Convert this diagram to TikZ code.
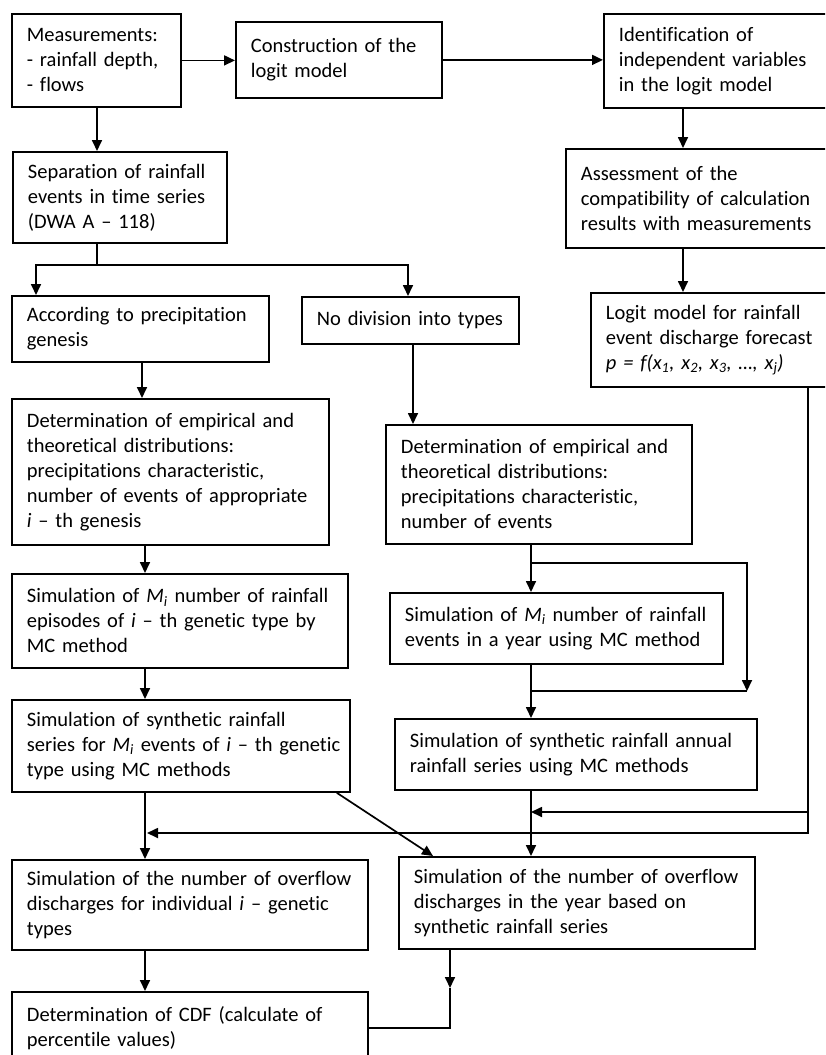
\documentclass[tikz,border=0pt]{standalone}
\usepackage{fontspec}
\setmainfont{Carlito}[Ligatures=NoCommon]
\usetikzlibrary{arrows.meta,calc}
\newcommand{\boxfont}{\fontsize{20.5}{25}\selectfont}

\begin{document}
\begin{tikzpicture}[
    x=1pt, y=-1pt,
    box/.style={rectangle, draw=black, line width=1.8pt, anchor=north west, align=left,
                inner xsep=15pt, inner ysep=0pt, font=\boxfont},
    arr/.style={line width=1.7pt, -{Triangle[length=11pt,width=10pt]}},
    con/.style={line width=1.7pt}
]
    \clip (0,0) rectangle (825,1055);

    % top row
    \node[box, text width=139pt, minimum height=93pt] (meas) at (11,13)
        {Measurements:\\- rainfall depth,\\- flows};
    \node[box, text width=176pt, minimum height=76pt] (constr) at (235,21)
        {Construction of the\\logit model};
    \node[box, text width=197pt, minimum height=94pt] (ident) at (603,13)
        {Identification of\\independent variables\\in the logit model};
    \node[box, text width=235pt, minimum height=99pt] (assess) at (565,148)
        {Assessment of the\\compatibility of calculation\\results with measurements};
    \node[box, text width=210pt, minimum height=94pt] (logit) at (590,292)
        {Logit model for rainfall\\event discharge forecast\\{\itshape p = f(x\textsubscript{1}, x\textsubscript{2}, x\textsubscript{3}, \dots, x\textsubscript{j})}};

    \node[box, text width=184pt, minimum height=91pt] (separ) at (12,151)
        {Separation of rainfall\\events in time series\\(DWA A -- 118)};

    % left branch
    \node[box, text width=227pt, minimum height=66pt] (genesis) at (11,295)
        {According to precipitation\\genesis};
    \node[box, text width=287pt, minimum height=146pt] (detL) at (11,398)
        {Determination of empirical and\\theoretical distributions:\\precipitations characteristic,\\number of events of appropriate\\\textit{i} -- th genesis};
    \node[box, text width=306pt, minimum height=94pt] (simML) at (11,573)
        {Simulation of \textit{M\textsubscript{i}} number of rainfall\\\mbox{episodes of \textit{i} -- th genetic type by}\\MC method};
    \node[box, text width=308pt, minimum height=92pt] (synL) at (11,699)
        {Simulation of synthetic rainfall\\\mbox{series for \textit{M\textsubscript{i}} events of \textit{i} -- th genetic}\\type using MC methods};
    \node[box, text width=326pt, minimum height=90pt] (ovL) at (11,859)
        {Simulation of the number of overflow\\\mbox{discharges for individual \textit{i} -- genetic}\\types};
    \node[box, text width=326pt, minimum height=72pt] (cdf) at (11,991)
        {Determination of CDF (calculate of\\percentile values)};

    % right branch
    \node[box, text width=187pt, minimum height=47pt] (nodiv) at (301,296)
        {No division into types};
    \node[box, text width=276pt, minimum height=119pt] (detR) at (385,424)
        {Determination of empirical and\\theoretical distributions:\\precipitations characteristic,\\number of events};
    \node[box, text width=303pt, minimum height=71pt] (simMR) at (389,592)
        {Simulation of \textit{M\textsubscript{i}} number of rainfall\\events in a year using MC method};
    \node[box, text width=332pt, minimum height=71pt] (synR) at (394,718)
        {Simulation of synthetic rainfall annual\\rainfall series using MC methods};
    \node[box, text width=326pt, minimum height=92pt] (ovR) at (398,856)
        {Simulation of the number of overflow\\discharges in the year based on\\synthetic rainfall series};

    % helper points
    \coordinate (sp) at (97,265);
    \coordinate (colL) at (145,0);
    \coordinate (colR) at (531,0);
    \coordinate (colF) at (808,0);
    \coordinate (bypT) at (747,563);
    \coordinate (bypB) at (747,691);
    \coordinate (jL) at (147,833);
    \coordinate (jR) at (531,812);
    \coordinate (cj) at (450,988);

    % connectors, top
    \draw[arr] (meas.east) -- (meas.east -| constr.west);
    \draw[arr] (constr.east) -- (constr.east -| ident.west);
    \draw[arr] (meas.south -| sp) -- (separ.north -| sp);
    \draw[arr] ([xshift=80pt]ident.south west) -- ([xshift=80pt]ident.south west |- assess.north);
    \draw[arr] ([xshift=118pt]assess.south west) -- ([xshift=118pt]assess.south west |- logit.north);

    % split
    \draw[con] (separ.south -| sp) -- (sp);
    \draw[arr] (sp) -| ([xshift=25pt]genesis.north west);
    \draw[arr] (sp) -| ([xshift=107pt]nodiv.north west);

    % left column
    \draw[arr] ([xshift=131pt]genesis.south west) -- ([xshift=131pt]genesis.south west |- detL.north);
    \draw[arr] (detL.south -| colL) -- (simML.north -| colL);
    \draw[arr] (simML.south -| colL) -- (synL.north -| colL);
    \draw[arr] (synL.south -| colL) -- (ovL.north -| colL);
    \draw[arr] (ovL.south -| colL) -- (cdf.north -| colL);

    % right column
    \draw[arr] ([xshift=112pt]nodiv.south west) -- ([xshift=112pt]nodiv.south west |- detR.north);
    \draw[arr] (detR.south -| colR) -- (simMR.north -| colR);
    \draw[arr] (bypT -| colR) -- (bypT) -- (bypB);
    \draw[con] (bypB) -- (bypB -| colR);
    \draw[arr] (simMR.south -| colR) -- (synR.north -| colR);
    \draw[arr] (synR.south -| colR) -- (ovR.north -| colR);

    % logit feedback
    \draw[arr] (logit.south -| colF) |- (jL);
    \draw[arr] (jR -| colF) -- (jR);
    \draw[arr] ([xshift=-14pt]synL.south east) -- ([xshift=35pt]ovR.north west);

    % to CDF
    \draw[arr] (ovR.south -| cj) -- (cj);
    \draw[con] (cj) |- (cdf.east);
\end{tikzpicture}
\end{document}
